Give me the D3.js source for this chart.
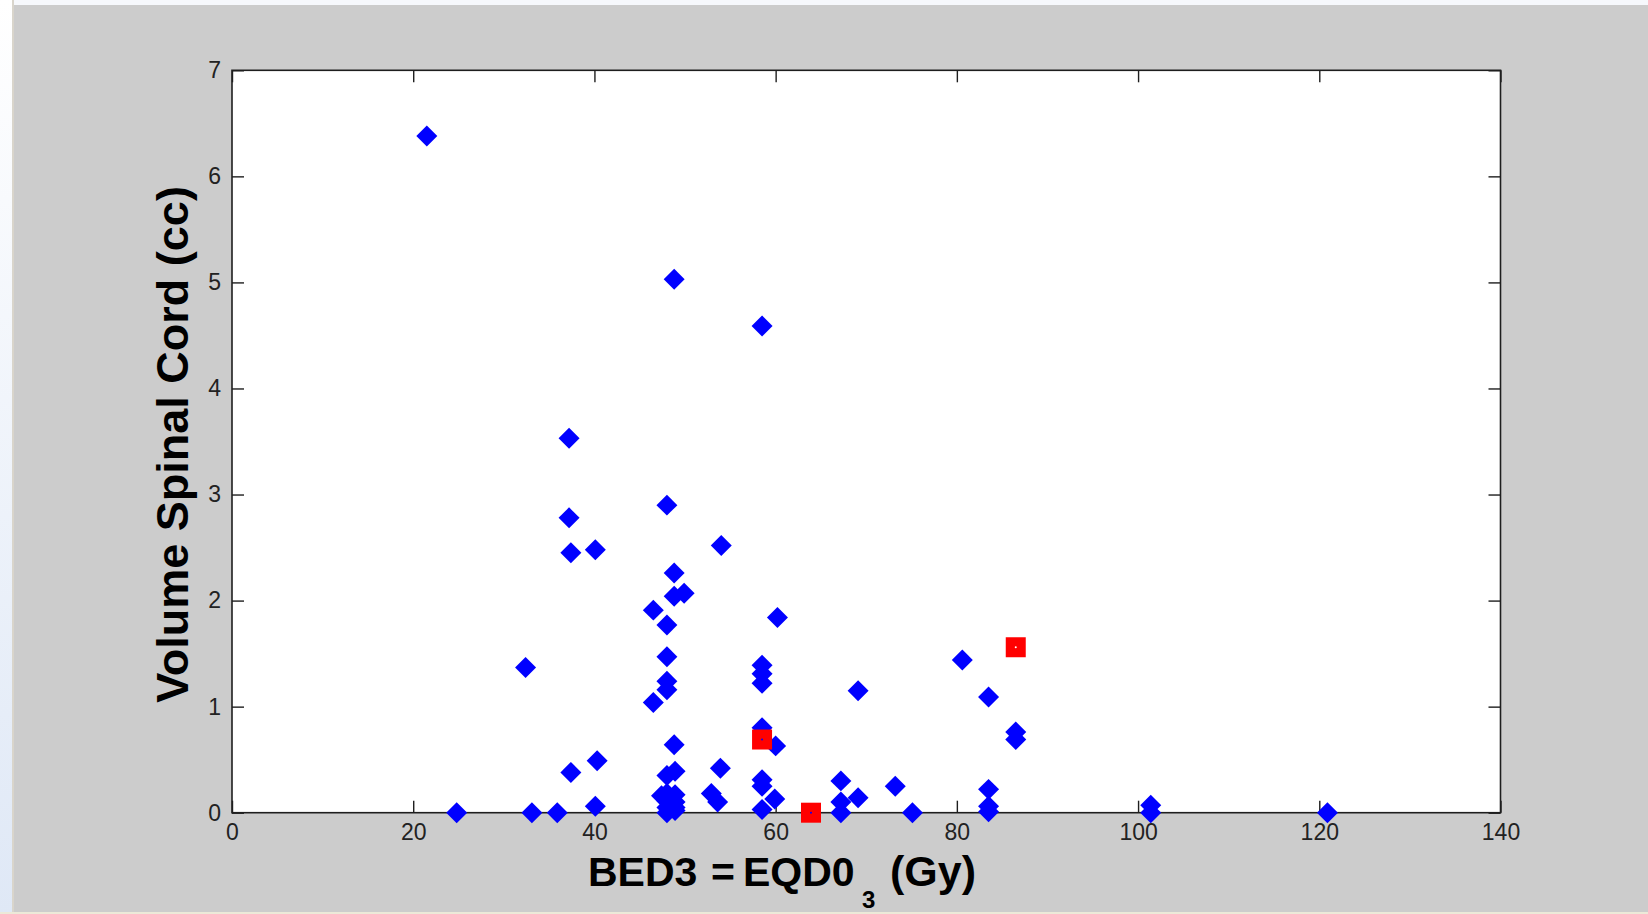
<!DOCTYPE html>
<html>
<head>
<meta charset="utf-8">
<script src="https://cdn.jsdelivr.net/npm/d3@7/dist/d3.min.js"></script>
<style>
  html, body { margin: 0; padding: 0; background: #cccccc; overflow: hidden; }
  svg { display: block; }
</style>
</head>
<body>
<svg id="chart" width="1648" height="914"></svg>
<script>
// BED3 (Gy) of each treated segment and the spinal cord volume receiving it (cc)
const bedValues = [
  21.5, 24.8, 32.4, 33.1, 35.9, 37.2, 37.2, 37.4, 37.4, 40.1,
  40.3, 40.1, 46.5, 46.5, 48.0, 48.0, 48.0, 48.0, 48.0, 48.8,
  48.8, 48.8, 49.9, 48.8, 48.0, 48.9, 47.4, 48.0, 48.9, 48.0,
  48.9, 48.0, 48.9, 48.0, 48.9, 54.0, 53.9, 52.9, 53.6, 58.5,
  58.5, 58.5, 58.5, 58.5, 60.0, 58.5, 58.5, 58.5, 59.9, 60.2,
  67.2, 67.2, 67.2, 69.1, 69.1, 73.2, 75.1, 80.6, 83.5, 83.5,
  83.5, 83.5, 86.5, 86.5, 101.4, 101.4, 120.9
];
const volumeValues = [
  6.38, 0.00, 1.37, 0.00, 0.00, 3.53, 2.78, 2.45, 0.38, 2.48,
  0.49, 0.06, 1.91, 1.04, 2.90, 1.77, 1.47, 1.24, 1.16, 5.03,
  2.26, 2.04, 2.07, 0.64, 0.35, 0.39, 0.16, 0.18, 0.17, 0.11,
  0.10, 0.05, 0.05, 0.00, 0.02, 2.52, 0.42, 0.18, 0.10, 4.59,
  1.39, 1.31, 1.22, 0.80, 0.63, 0.31, 0.25, 0.03, 0.13, 1.84,
  0.30, 0.10, 0.00, 0.14, 1.15, 0.25, 0.00, 1.44, 1.09, 0.22,
  0.06, 0.01, 0.76, 0.69, 0.07, 0.00, 0.00
];

// Cases with myelopathy
const eventBed = [58.5, 63.9, 86.5];
const eventVolume = [0.69, 0.00, 1.56];
const eventDotColor = ["#0000ff", "#0000ff", "#ffffff"];

const xTicks = [0, 20, 40, 60, 80, 100, 120, 140];
const yTicks = [0, 1, 2, 3, 4, 5, 6, 7];

const svg = d3.select("#chart");
const W = 1648, H = 914;
const plot = { left: 232, right: 1500.5, top: 70.3, bottom: 812.7 };

// window frame
const defs = svg.append("defs");
const grad = defs.append("linearGradient").attr("id", "edge")
  .attr("x1", 0).attr("y1", 0).attr("x2", 0).attr("y2", 1);
grad.append("stop").attr("offset", "0%").attr("stop-color", "#ffffff");
grad.append("stop").attr("offset", "100%").attr("stop-color", "#dfe8f6");

svg.append("rect").attr("width", W).attr("height", H).attr("fill", "#cccccc");
svg.append("rect").attr("x", 0).attr("y", 0).attr("width", W).attr("height", 5).attr("fill", "#f6f8fc");
svg.append("rect").attr("x", 0).attr("y", 0).attr("width", 12).attr("height", H).attr("fill", "url(#edge)");
svg.append("rect").attr("x", 12).attr("y", 0).attr("width", 2).attr("height", H).attr("fill", "#d9d5cc");
svg.append("rect").attr("x", 0).attr("y", 912).attr("width", W).attr("height", 2).attr("fill", "#ece9d8");

const x = d3.scaleLinear().domain([0, 140]).range([plot.left, plot.right]);
const y = d3.scaleLinear().domain([0, 7]).range([plot.bottom, plot.top]);

// axes area
svg.append("rect")
  .attr("x", plot.left).attr("y", plot.top)
  .attr("width", plot.right - plot.left).attr("height", plot.bottom - plot.top)
  .attr("fill", "#ffffff");

const tickFont = "'Liberation Sans', Arial, sans-serif";

function styleAxis(g, showLabels) {
  g.select(".domain").remove();
  g.selectAll(".tick line").attr("stroke", "#1e1e1e").attr("stroke-width", 1.4);
  g.selectAll(".tick text")
    .attr("fill", "#222")
    .style("font-family", tickFont)
    .style("font-size", "23px");
  if (!showLabels) g.selectAll(".tick text").remove();
}

svg.append("g").attr("transform", `translate(0,${plot.bottom})`)
  .call(d3.axisBottom(x).tickValues(xTicks).tickFormat(d3.format("d"))
    .tickSizeInner(-12).tickSizeOuter(0).tickPadding(11))
  .call(g => styleAxis(g, true));

svg.append("g").attr("transform", `translate(0,${plot.top})`)
  .call(d3.axisTop(x).tickValues(xTicks).tickSizeInner(-12).tickSizeOuter(0))
  .call(g => styleAxis(g, false));

svg.append("g").attr("transform", `translate(${plot.left},0)`)
  .call(d3.axisLeft(y).tickValues(yTicks).tickFormat(d3.format("d"))
    .tickSizeInner(-12).tickSizeOuter(0).tickPadding(11))
  .call(g => styleAxis(g, true));

svg.append("g").attr("transform", `translate(${plot.right},0)`)
  .call(d3.axisRight(y).tickValues(yTicks).tickSizeInner(-12).tickSizeOuter(0))
  .call(g => styleAxis(g, false));

// axes box
svg.append("rect")
  .attr("x", plot.left).attr("y", plot.top)
  .attr("width", plot.right - plot.left).attr("height", plot.bottom - plot.top)
  .attr("fill", "none").attr("stroke", "#1e1e1e").attr("stroke-width", 1.6);

// blue diamonds
const diamond = d3.symbol(d3.symbolSquare, 220);
svg.append("g").selectAll("path")
  .data(d3.range(bedValues.length))
  .join("path")
  .attr("d", diamond)
  .attr("transform", i => `translate(${x(bedValues[i])},${y(volumeValues[i])}) rotate(45)`)
  .attr("fill", "#0000ff");

// red squares
const square = d3.symbol(d3.symbolSquare, 400);
const ev = svg.append("g").selectAll("g")
  .data(d3.range(eventBed.length))
  .join("g")
  .attr("transform", i => `translate(${x(eventBed[i])},${y(eventVolume[i])})`);
ev.append("path").attr("d", square).attr("fill", "#ff0000");
ev.append("circle").attr("r", 1).attr("fill", i => eventDotColor[i]);

// axis titles
const titleFont = "'Liberation Sans', Arial, Helvetica, sans-serif";
const xt = svg.append("g")
  .style("font-family", titleFont).style("font-weight", "bold").attr("fill", "#000");
xt.append("text").attr("x", 588).attr("y", 886).style("font-size", "41px").text("BED3");
xt.append("text").attr("x", 711).attr("y", 886).style("font-size", "41px").text("=");
xt.append("text").attr("x", 743).attr("y", 886).style("font-size", "41px").text("EQD0");
xt.append("text").attr("x", 862).attr("y", 908).style("font-size", "24px").text("3");
xt.append("text").attr("x", 890).attr("y", 886).style("font-size", "43px").text("(Gy)");

svg.append("text")
  .attr("transform", `translate(188,${(188 + 701) / 2}) rotate(-90)`)
  .attr("text-anchor", "middle")
  .style("font-family", titleFont).style("font-weight", "bold")
  .style("font-size", "45px").attr("fill", "#000")
  .text("Volume Spinal Cord (cc)");
</script>
</body>
</html>
